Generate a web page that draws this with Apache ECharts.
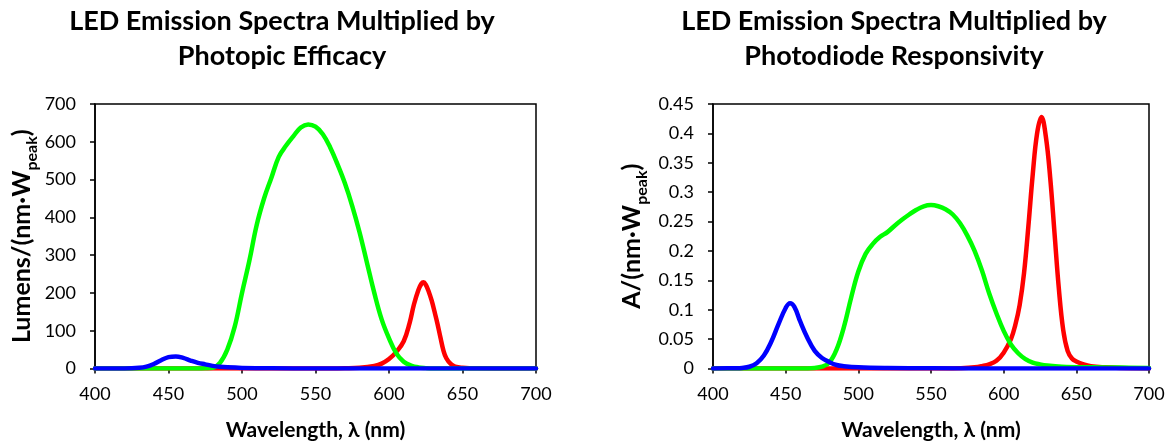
<!DOCTYPE html>
<html>
<head>
<meta charset="utf-8">
<script src="https://cdn.jsdelivr.net/npm/echarts@6/dist/echarts.min.js"></script>
<style>
  html, body { margin: 0; padding: 0; background: #fff; }
  #chart { width: 1169px; height: 446px; }
</style>
</head>
<body>
<div id="chart"></div>
<script>
// ---------- Left chart: LED spectra x photopic efficacy (lm/(nm·W_peak)) ----------
const blueL_wl  = [400, 420, 430, 435, 440, 445, 450, 455, 460, 465, 470, 475, 480, 485, 490, 500, 520, 550, 700];
const blueL_val = [0, 0.3, 2, 5, 12, 22, 30, 32, 28, 21, 15, 11, 7, 4.5, 3, 1.5, 0.5, 0.2, 0];

const greenL_wl  = [400, 470, 475, 480, 485, 490, 495, 500, 505, 510, 515, 520, 525, 530, 535, 540, 545, 550, 555, 560, 565, 570, 575, 580, 585, 590, 595, 600, 605, 610, 615, 620, 625, 630, 700];
const greenL_val = [0, 0, 0.5, 2, 15, 50, 110, 200, 285, 380, 450, 505, 560, 590, 615, 638, 646, 640, 620, 585, 540, 490, 430, 360, 280, 200, 130, 80, 40, 18, 8, 3, 1, 0, 0];

const redL_wl  = [400, 560, 570, 580, 590, 595, 600, 605, 610, 614, 617, 620, 622, 623.5, 625, 627, 629, 631, 633, 635, 637, 639, 642, 645, 650, 660, 700];
const redL_val = [0, 0, 0.5, 2, 7, 13, 25, 44, 72, 120, 170, 208, 224, 228, 222, 204, 180, 150, 118, 82, 48, 27, 12, 5, 2, 0.5, 0];

// ---------- Right chart: LED spectra x photodiode responsivity (A/(nm·W_peak)) ----------
const blueR_wl  = [400, 415, 420, 425, 430, 435, 440, 445, 450, 453, 456, 460, 465, 470, 475, 480, 485, 490, 500, 520, 550, 600, 700];
const blueR_val = [0, 0.0005, 0.001, 0.003, 0.009, 0.022, 0.045, 0.075, 0.103, 0.111, 0.105, 0.080, 0.052, 0.030, 0.018, 0.011, 0.006, 0.004, 0.002, 0.0008, 0.0003, 0.0001, 0];

const greenR_wl  = [400, 460, 470, 475, 480, 485, 490, 495, 500, 505, 510, 515, 520, 525, 530, 535, 540, 545, 550, 555, 560, 565, 570, 575, 580, 585, 590, 595, 600, 605, 610, 615, 620, 625, 630, 640, 660, 680, 700];
const greenR_val = [0, 0, 0.001, 0.003, 0.010, 0.032, 0.070, 0.120, 0.165, 0.195, 0.212, 0.224, 0.232, 0.243, 0.253, 0.262, 0.270, 0.276, 0.278, 0.276, 0.271, 0.262, 0.247, 0.226, 0.200, 0.167, 0.128, 0.094, 0.064, 0.041, 0.026, 0.016, 0.010, 0.007, 0.005, 0.003, 0.002, 0.0015, 0.001];

const redR_wl  = [400, 560, 570, 580, 585, 590, 595, 600, 605, 608, 611, 614, 617, 620, 623, 626, 629, 632, 635, 638, 641, 644, 647, 650, 655, 660, 670, 680, 700];
const redR_val = [0, 0, 0.0005, 0.002, 0.004, 0.007, 0.013, 0.027, 0.050, 0.074, 0.108, 0.162, 0.242, 0.330, 0.400, 0.428, 0.395, 0.325, 0.230, 0.135, 0.065, 0.030, 0.017, 0.012, 0.007, 0.004, 0.002, 0.001, 0];

const titles = ['LED Emission Spectra Multiplied by\nPhotopic Efficacy', 'LED Emission Spectra Multiplied by\nPhotodiode Responsivity'];
const xName = 'Wavelength, \u03bb (nm)';
const yNameMain = ['Lumens/(nm\u00b7W', 'A/(nm\u00b7W'];
const xTicks = { min: 400, max: 700, interval: 50 };
const yTicksL = { min: 0, max: 700, interval: 100 };
const yTicksR = { min: 0, max: 0.45, interval: 0.05 };

const FONT = 'Lato, "Open Sans", sans-serif';
const zip = (a, b) => a.map((v, i) => [v, b[i]]);

function xAxis(gi) {
  return {
    type: 'value', gridIndex: gi, min: xTicks.min, max: xTicks.max, interval: xTicks.interval,
    name: xName, nameLocation: 'middle', nameGap: 51,
    nameTextStyle: { fontFamily: FONT, fontWeight: 'bold', fontSize: 21, color: '#000' },
    axisLine: { onZero: false, lineStyle: { color: '#000', width: 1.5 } },
    axisTick: { show: true, inside: false, length: 5, lineStyle: { color: '#000', width: 1.5 } },
    axisLabel: { fontFamily: FONT, fontSize: 18, color: '#000', margin: 17 },
    splitLine: { show: false }
  };
}
function yAxis(gi, t, label, gap) {
  return {
    type: 'value', gridIndex: gi, min: t.min, max: t.max, interval: t.interval,
    name: '{m|' + label + '}{s|peak}{m|)}', nameLocation: 'middle', nameRotate: 90, nameGap: gap,
    nameTextStyle: {
      color: '#000',
      rich: {
        m: { fontFamily: FONT, fontWeight: 'bold', fontSize: 25, lineHeight: 26, verticalAlign: 'middle', color: '#000' },
        s: { fontFamily: FONT, fontWeight: 'bold', fontSize: 16, lineHeight: 37, verticalAlign: 'bottom', color: '#000' }
      }
    },
    axisLine: { onZero: false, lineStyle: { color: '#000', width: 1.5 } },
    axisTick: { show: true, inside: false, length: 5, lineStyle: { color: '#000', width: 1.5 } },
    axisLabel: { fontFamily: FONT, fontSize: 18, color: '#000', margin: 19 },
    splitLine: { show: false }
  };
}
function line(name, wl, val, color, xi, yi, z) {
  return {
    name, type: 'line', xAxisIndex: xi, yAxisIndex: yi, data: zip(wl, val),
    showSymbol: false, symbol: 'none', smooth: 0.4, z,
    lineStyle: { color, width: 4.5, cap: 'round', join: 'round' }, itemStyle: { color },
    animation: false
  };
}

const chart = echarts.init(document.getElementById('chart'), null, { renderer: 'canvas' });
chart.setOption({
  backgroundColor: '#fff',
  animation: false,
  title: [
    { text: titles[0], left: 277, top: -1, textAlign: 'center',
      textStyle: { fontFamily: FONT, fontWeight: 'bold', fontSize: 27, lineHeight: 35, color: '#000' } },
    { text: titles[1], left: 889, top: -1, textAlign: 'center',
      textStyle: { fontFamily: FONT, fontWeight: 'bold', fontSize: 27, lineHeight: 35, color: '#000' } }
  ],
  grid: [
    { left: 95, right: 1169 - 536, top: 104, bottom: 446 - 368.5, show: true, borderColor: '#000', borderWidth: 1.5, containLabel: false },
    { left: 713, right: 1169 - 1149, top: 104, bottom: 446 - 368.5, show: true, borderColor: '#000', borderWidth: 1.5, containLabel: false }
  ],
  xAxis: [xAxis(0), xAxis(1)],
  yAxis: [yAxis(0, yTicksL, yNameMain[0], 55), yAxis(1, yTicksR, yNameMain[1], 63)],
  series: [
    line('Red', redL_wl, redL_val, '#ff0000', 0, 0, 2),
    line('Green', greenL_wl, greenL_val, '#00ff00', 0, 0, 3),
    line('Blue', blueL_wl, blueL_val, '#0000ff', 0, 0, 4),
    line('Red', redR_wl, redR_val, '#ff0000', 1, 1, 2),
    line('Green', greenR_wl, greenR_val, '#00ff00', 1, 1, 3),
    line('Blue', blueR_wl, blueR_val, '#0000ff', 1, 1, 4)
  ]
});
</script>
</body>
</html>
